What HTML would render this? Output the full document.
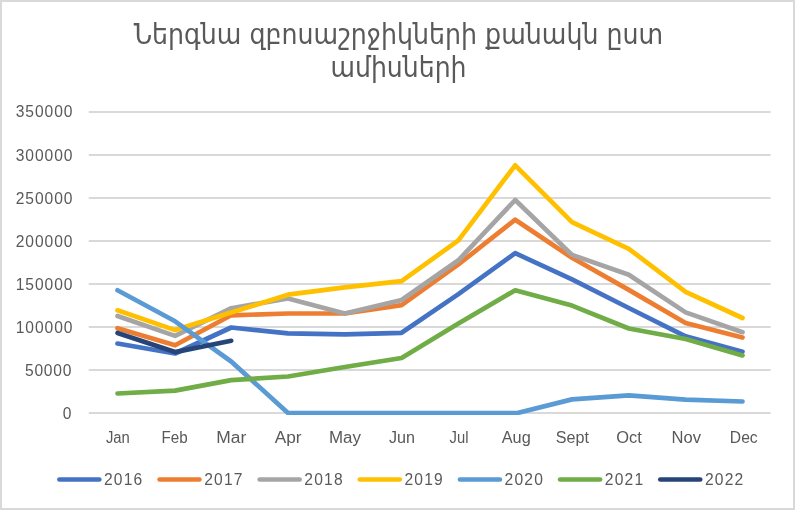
<!DOCTYPE html>
<html lang="hy"><head><meta charset="utf-8"><title>Ներգնա զբոսաշրջիկների քանակն ըստ ամիսների</title>
<style>
html,body{margin:0;padding:0;background:#fff;}
body{width:795px;height:510px;overflow:hidden;}
svg{display:block;}
.ax{font-family:"Liberation Sans",sans-serif;font-size:15.6px;fill:#595959;}
.ttl{font-family:"DejaVu Sans","Liberation Sans",sans-serif;font-size:28px;fill:#595959;}
</style></head><body>
<svg width="795" height="510" viewBox="0 0 795 510">
<rect x="0" y="0" width="795" height="510" fill="#D9D9D9"/>
<rect x="2" y="2" width="791" height="506" fill="#FFFFFF"/>
<text class="ttl" x="398.4" y="43.5" text-anchor="middle" textLength="529.5" lengthAdjust="spacingAndGlyphs">Ներգնա զբոսաշրջիկների քանակն ըստ</text>
<text class="ttl" x="398.5" y="77.2" text-anchor="middle" textLength="136" lengthAdjust="spacingAndGlyphs">ամիսների</text>
<g stroke="#D9D9D9" stroke-width="1.8">
<line x1="88.8" y1="112.00" x2="770.7" y2="112.00"/>
<line x1="88.8" y1="155.00" x2="770.7" y2="155.00"/>
<line x1="88.8" y1="198.00" x2="770.7" y2="198.00"/>
<line x1="88.8" y1="241.00" x2="770.7" y2="241.00"/>
<line x1="88.8" y1="284.00" x2="770.7" y2="284.00"/>
<line x1="88.8" y1="327.00" x2="770.7" y2="327.00"/>
<line x1="88.8" y1="370.00" x2="770.7" y2="370.00"/>
<line x1="88.8" y1="413.00" x2="770.7" y2="413.00"/>
</g>
<g class="ax" text-anchor="end">
<text x="72.5" y="117.00" textLength="56.8" lengthAdjust="spacing">350000</text>
<text x="72.5" y="160.80" textLength="56.8" lengthAdjust="spacing">300000</text>
<text x="72.5" y="203.80" textLength="56.8" lengthAdjust="spacing">250000</text>
<text x="72.5" y="246.80" textLength="56.8" lengthAdjust="spacing">200000</text>
<text x="72.5" y="289.80" textLength="56.8" lengthAdjust="spacing">150000</text>
<text x="72.5" y="332.80" textLength="56.8" lengthAdjust="spacing">100000</text>
<text x="71.4" y="375.80" textLength="46.4" lengthAdjust="spacing">50000</text>
<text x="71.4" y="418.80" textLength="9.5" lengthAdjust="spacing">0</text>
</g>
<g class="ax" text-anchor="middle">
<text x="117.85" y="442.6" textLength="23.9" lengthAdjust="spacingAndGlyphs">Jan</text>
<text x="174.66" y="442.6" textLength="26.2" lengthAdjust="spacingAndGlyphs">Feb</text>
<text x="231.37" y="442.6" textLength="30.0" lengthAdjust="spacingAndGlyphs">Mar</text>
<text x="288.18" y="442.6" textLength="26.9" lengthAdjust="spacingAndGlyphs">Apr</text>
<text x="344.99" y="442.6" textLength="32.0" lengthAdjust="spacingAndGlyphs">May</text>
<text x="401.90" y="442.6" textLength="26.0" lengthAdjust="spacingAndGlyphs">Jun</text>
<text x="459.01" y="442.6" textLength="18.9" lengthAdjust="spacingAndGlyphs">Jul</text>
<text x="516.22" y="442.6" textLength="29.0" lengthAdjust="spacingAndGlyphs">Aug</text>
<text x="572.43" y="442.6" textLength="33.2" lengthAdjust="spacingAndGlyphs">Sept</text>
<text x="629.14" y="442.6" textLength="25.6" lengthAdjust="spacingAndGlyphs">Oct</text>
<text x="686.35" y="442.6" textLength="29.5" lengthAdjust="spacingAndGlyphs">Nov</text>
<text x="743.76" y="442.6" textLength="27.9" lengthAdjust="spacingAndGlyphs">Dec</text>
</g>
<clipPath id="pc"><rect x="80" y="100" width="700" height="315"/></clipPath>
<g fill="none" stroke-width="4.7" stroke-linecap="round" stroke-linejoin="round" clip-path="url(#pc)">
<polyline stroke="#4472C4" points="117.5,343.5 175.1,353.5 231.2,327.5 288.0,333.4 344.8,334.4 401.6,332.8 458.4,294.1 515.2,253.2 572.0,279.4 628.8,308.0 685.6,336.3 742.5,351.7"/>
<polyline stroke="#ED7D31" points="117.5,328.2 175.1,345.3 231.2,315.3 288.0,313.5 344.8,313.5 401.6,305.2 458.4,264.4 515.2,219.7 572.0,257.8 628.8,289.9 685.6,323.0 742.5,337.5"/>
<polyline stroke="#A5A5A5" points="117.5,316.0 175.1,335.9 231.2,308.2 288.0,298.5 344.8,313.5 401.6,300.0 458.4,260.3 515.2,200.0 572.0,254.9 628.8,274.8 685.6,312.4 742.5,332.2"/>
<polyline stroke="#FFC000" points="117.5,310.3 175.1,330.1 231.2,312.6 288.0,294.7 344.8,287.3 401.6,281.2 458.4,240.4 515.2,165.3 572.0,222.2 628.8,248.8 685.6,291.8 742.5,318.0"/>
<polyline stroke="#5B9BD5" points="117.5,290.3 175.1,321.3 231.2,361.5 288.0,413.0 344.8,413.0 401.6,413.0 458.4,413.0 517.4,413.0 572.0,399.4 628.8,395.3 685.6,399.6 742.5,401.5"/>
<polyline stroke="#70AD47" points="117.5,393.5 175.1,390.6 231.2,380.1 288.0,376.5 344.8,367.0 401.6,358.0 458.4,323.5 515.2,290.3 572.0,305.6 628.8,328.5 685.6,339.0 742.5,355.4"/>
<polyline stroke="#264478" points="117.5,332.9 175.1,352.1 231.2,340.8"/>
</g>
<g>
<line x1="59.4" y1="479.5" x2="99.3" y2="479.5" stroke="#4472C4" stroke-width="4.7" stroke-linecap="round"/>
<text class="ax" x="104.0" y="485" textLength="38.3" lengthAdjust="spacing">2016</text>
<line x1="159.6" y1="479.5" x2="199.4" y2="479.5" stroke="#ED7D31" stroke-width="4.7" stroke-linecap="round"/>
<text class="ax" x="204.2" y="485" textLength="38.3" lengthAdjust="spacing">2017</text>
<line x1="259.7" y1="479.5" x2="299.6" y2="479.5" stroke="#A5A5A5" stroke-width="4.7" stroke-linecap="round"/>
<text class="ax" x="304.3" y="485" textLength="38.3" lengthAdjust="spacing">2018</text>
<line x1="359.9" y1="479.5" x2="399.8" y2="479.5" stroke="#FFC000" stroke-width="4.7" stroke-linecap="round"/>
<text class="ax" x="404.5" y="485" textLength="38.3" lengthAdjust="spacing">2019</text>
<line x1="460.0" y1="479.5" x2="499.9" y2="479.5" stroke="#5B9BD5" stroke-width="4.7" stroke-linecap="round"/>
<text class="ax" x="504.6" y="485" textLength="38.3" lengthAdjust="spacing">2020</text>
<line x1="560.1" y1="479.5" x2="600.1" y2="479.5" stroke="#70AD47" stroke-width="4.7" stroke-linecap="round"/>
<text class="ax" x="604.8" y="485" textLength="38.3" lengthAdjust="spacing">2021</text>
<line x1="660.3" y1="479.5" x2="700.2" y2="479.5" stroke="#264478" stroke-width="4.7" stroke-linecap="round"/>
<text class="ax" x="704.9" y="485" textLength="38.3" lengthAdjust="spacing">2022</text>
</g>
</svg>
</body></html>
